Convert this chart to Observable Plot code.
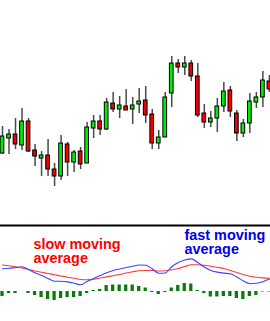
<!DOCTYPE html>
<html>
<head>
<meta charset="utf-8">
<script src="https://cdn.jsdelivr.net/npm/d3@7"></script>
<script src="https://cdn.jsdelivr.net/npm/@observablehq/plot@0.6"></script>
<style>
  html, body { margin: 0; padding: 0; background: #fff; }
  #chart svg { display: block; }
</style>
</head>
<body>
<div id="chart"></div>
<script>
// Candlestick data (price units)
const opens  = [47,62,66,55,79,50,42,45,31,24,56,38,49,37,72,79,71,97,91,94,91,96,100,86,57,63,107,137,133,137,124,87,78,82,94,110,87,67,77,98,103,119];
const closes = [64,66,56,79,49,44,45,31,24,57,38,48,36,73,79,71,98,91,95,90,95,99,85,57,63,103,137,133,137,124,85,78,82,94,109,89,67,77,99,103,120,111];
const highs  = [74,71,82,92,82,56,49,61,37,65,58,50,53,78,85,85,102,108,104,111,103,112,114,91,70,108,144,141,144,140,137,96,89,102,118,114,90,81,107,108,129,125];
const lows   = [46,46,51,50,48,34,24,24,14,20,24,28,31,37,62,65,70,88,82,90,76,87,77,51,51,63,93,127,125,119,83,72,73,68,88,83,59,63,67,92,93,108];

// Indicator panel (arbitrary indicator units)
const slowMA = [26.5,25.7,24.8,23.5,22,20.5,19.2,18,16.7,15.5,14.3,13.2,12,11.8,12.3,13.5,14.6,15.8,17,18.5,19.7,20.8,21,21,20.5,20.8,21.8,23,25,26.7,26.7,26.2,25.3,24.2,23,21,19,17,15.2,14.2,13.6,13.3];
const fastMA = [22.8,23.2,24,24.7,22,18.7,16,13,10.3,10.2,9.6,8.3,6.7,10,13,15.9,18.7,21,22.5,24,25.3,26.5,26.2,22.7,18.2,18.5,24.8,29,31.5,32.6,29,24.5,21,19.4,18.4,17.7,14.5,10.5,7.8,8.2,9.8,12.4];
const histogram = [-5,-2,-2,0,-2,-4,-6,-8,-9,-7,-6,-6,-5,-2,1,2,6,6.5,6.5,6.5,6.5,5,3.5,-1,-3,-1,3.5,6,8,7.5,1,-2,-5.5,-5.5,-5,-5,-7,-8,-5,-4,-0.5,-0.5];

const labels = ["slow moving\naverage", "fast moving\naverage"];

const candles = opens.map((o, k) => ({
  i: k + 1, open: o, close: closes[k], high: highs[k], low: lows[k], up: closes[k] >= o
}));
const ind = slowMA.map((s, k) => ({i: k + 1, slow: s, fast: fastMA[k], hist: histogram[k]}));

const xScale = {domain: [1, 42], range: [2, 268.9]};
const bodyHalf = 0.285;
const barHalf = 0.25;

const pricePanel = Plot.plot({
  width: 270, height: 224,
  margin: 0,
  x: {...xScale, axis: null},
  y: {domain: [0, 160], range: [200, 40], axis: null},
  marks: [
    Plot.ruleX(candles, {x: "i", y1: "low", y2: "high", stroke: "#4a4a4a", strokeWidth: 1.5}),
    Plot.rect(candles, {
      x1: d => d.i - bodyHalf, x2: d => d.i + bodyHalf,
      y1: "open", y2: "close",
      fill: d => d.up ? "#00ee00" : "#ee0000",
      stroke: "#000", strokeWidth: 1
    })
  ]
});

const indicatorPanel = Plot.plot({
  width: 270, height: 97,
  marginTop: 1, marginLeft: 0, marginRight: 0, marginBottom: 0,
  x: {...xScale, axis: null},
  y: {domain: [0, 40], range: [67, 27], axis: null},
  marks: [
    Plot.frame({anchor: "top", stroke: "#000", strokeWidth: 2.2}),
    Plot.rect(ind, {
      x1: d => d.i - barHalf, x2: d => d.i + barHalf,
      y1: 0, y2: "hist", fill: "#0a7a0a"
    }),
    Plot.line(ind, {x: "i", y: "slow", stroke: "#ff3a3a", strokeWidth: 1.1, curve: "monotone-x"}),
    Plot.line(ind, {x: "i", y: "fast", stroke: "#4040ff", strokeWidth: 1.1, curve: "monotone-x"}),
    Plot.text([labels[0]], {
      frameAnchor: "top-left", dx: 33, dy: 13.3, lineAnchor: "top", textAnchor: "start",
      text: d => d, fill: "#ff0000", fontWeight: "bold", fontSize: 14.4, lineHeight: 1.0,
      fontFamily: "Liberation Sans, Arial, sans-serif"
    }),
    Plot.text([labels[1]], {
      frameAnchor: "top-left", dx: 184, dy: 3.8, lineAnchor: "top", textAnchor: "start",
      text: d => d, fill: "#0000ee", fontWeight: "bold", fontSize: 14.4, lineHeight: 1.0,
      fontFamily: "Liberation Sans, Arial, sans-serif"
    })
  ]
});

document.getElementById("chart").append(pricePanel, indicatorPanel);
</script>
</body>
</html>
